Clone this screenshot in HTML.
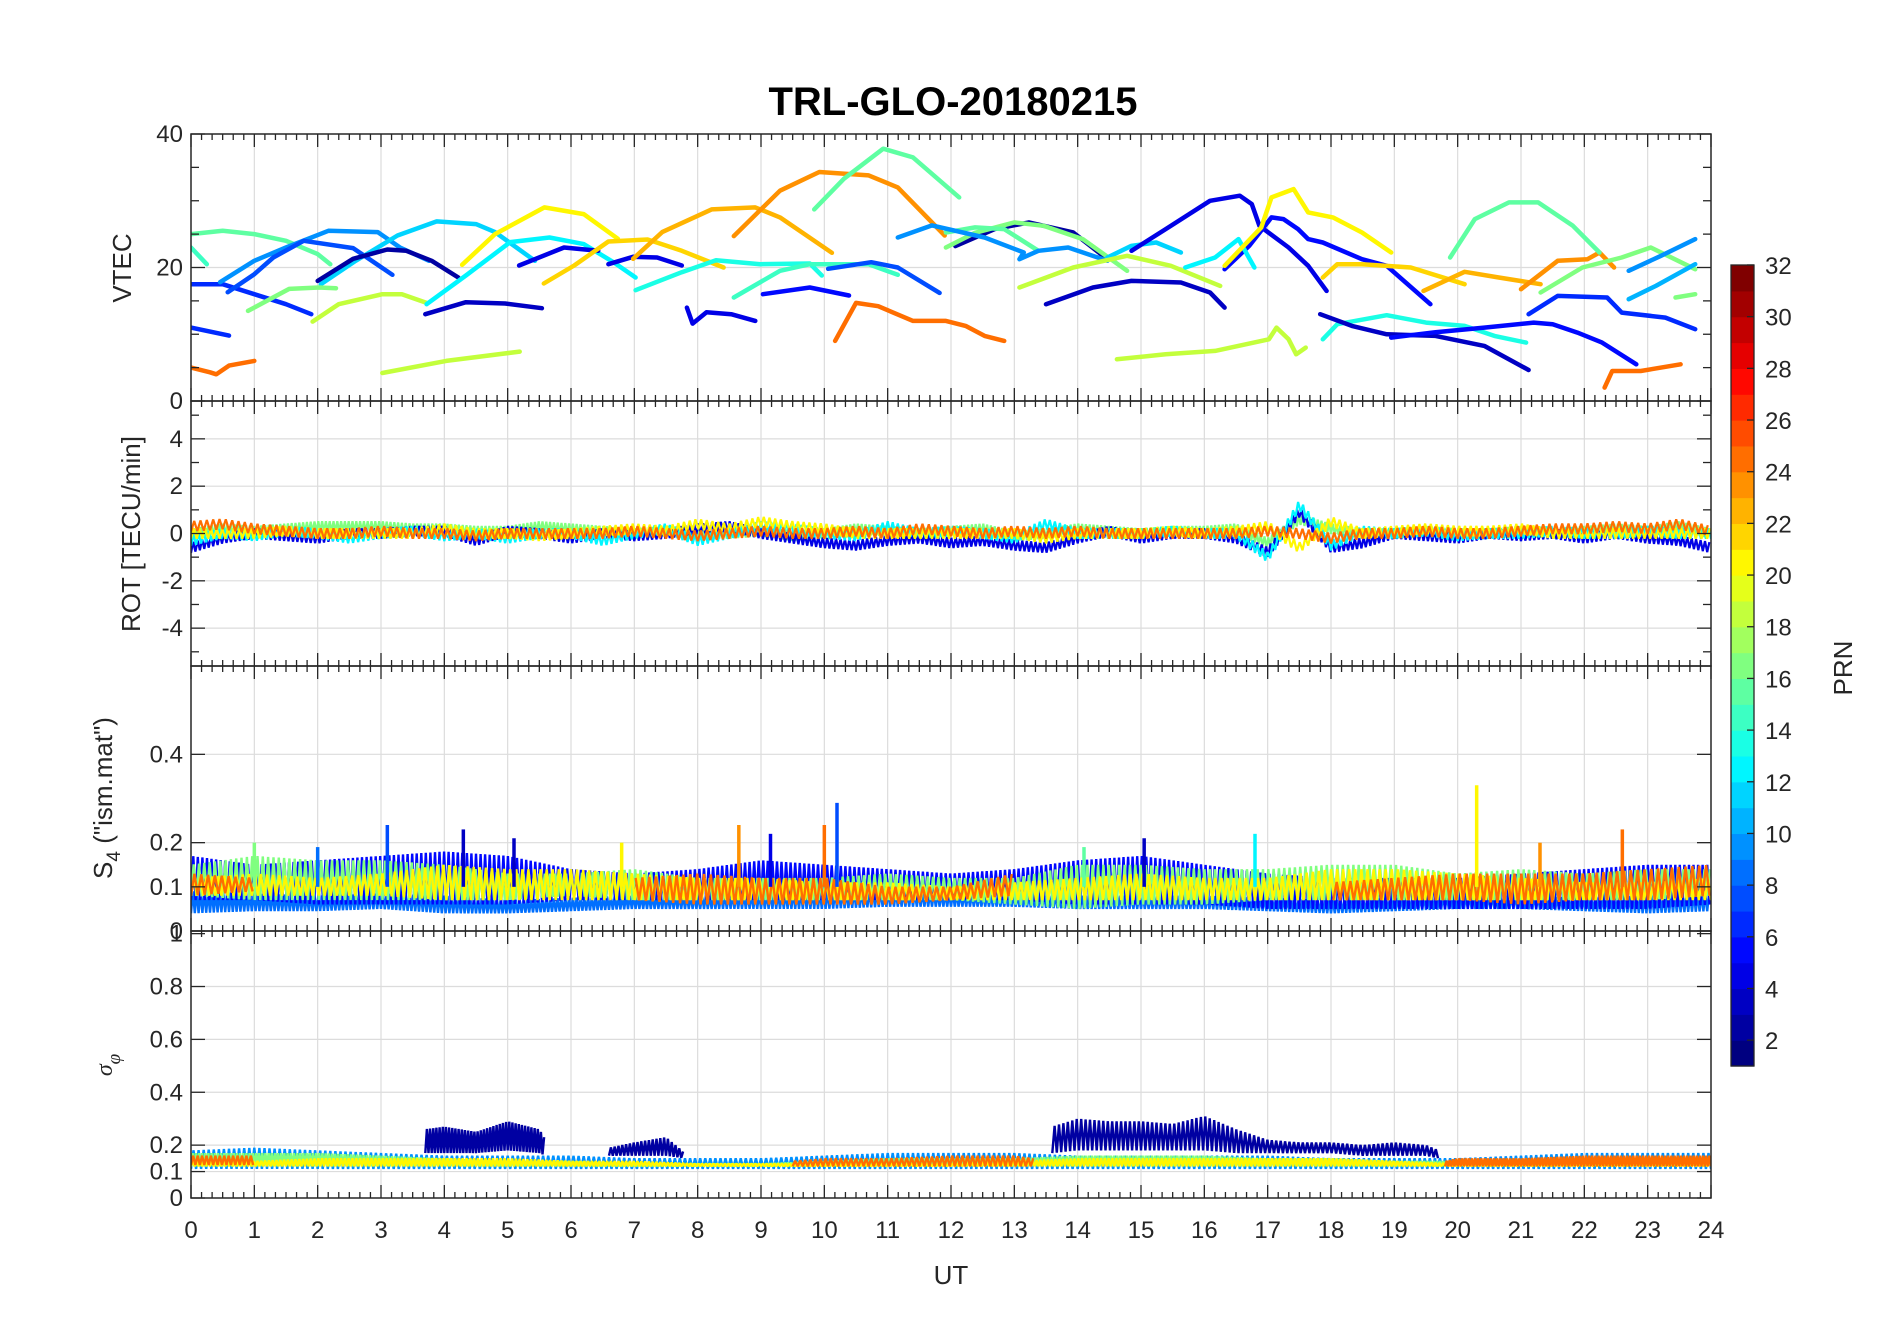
<!DOCTYPE html>
<html><head><meta charset="utf-8">
<style>
html,body{margin:0;padding:0;background:#fff;}
svg{display:block;font-family:"Liberation Sans",sans-serif;}
</style></head>
<body>
<svg id="chart" width="1902" height="1330" viewBox="0 0 1902 1330" xmlns="http://www.w3.org/2000/svg">
<rect x="0" y="0" width="1902" height="1330" fill="#fff"/>
<text x="953" y="115" text-anchor="middle" font-size="40" font-weight="bold" fill="#000">TRL-GLO-20180215</text>
<g id="layer"></g>
</svg>
<script>
// ---------------- DATA ----------------
const vtecPRN = [15,14,6,6,24,9,7,11,2,16,18,12,20,3,18,4,4,21,22,23,15,13,14,7,5,4,24,2,16,15,9,11,18,3,4,5,12,20,21,22,23,15,16,9,10,16,6,13,3,5,18,24];
const vtecT = [
[0,0.5,1,1.5,2,2.2],[0,0.25],[0,0.5,1,1.5,1.9],[0,0.6],[0,0.3,0.4,0.6,1],
[0.46,1,1.5,2.17,2.95,3.3,3.76],[0.58,1,1.3,1.78,2.56,3.18],
[2.05,2.6,3.26,3.88,4.5,4.8,5.43],[2.0,2.56,3.1,3.4,3.8,4.22],
[0.9,1.55,2.02,2.29],[1.92,2.33,3.02,3.33,3.72],
[3.72,4.34,5.04,5.66,6.2,6.67,7.02],[4.28,4.8,5.58,6.2,6.74],
[3.7,4.34,4.96,5.54],[3.02,4.03,5.19],
[5.18,5.89,6.43],[6.59,6.98,7.36,7.75],
[5.57,6.05,6.59,7.21,7.75,8.41],[6.98,7.44,8.22,8.91,9.3,10.12],
[8.57,9.3,9.92,10.7,11.16,11.9],[9.84,10.31,10.93,11.4,12.13],
[7.02,7.75,8.29,8.99,9.77,9.96],[8.57,9.3,9.77,10.7,11.16],
[10.06,10.74,11.16,11.82],[9.03,9.77,10.39],[7.83,7.92,8.14,8.53,8.91],
[10.17,10.5,10.85,11.4,11.92,12.23,12.53,12.84],
[12.07,12.69,13.23,13.93,14.47],[11.92,12.38,13,13.46,14.08,14.78],
[11.92,12.38,12.84,13.38],[11.16,11.7,12.53,13.15,13.08,13.38,13.85,14.47],
[14.47,14.85,15.24,15.63],[13.08,13.93,14.78,15.47,16.25],
[13.5,14.24,14.85,15.63,16.09,16.32],
[14.85,15.39,16.09,16.56,16.75,16.87,17.33,17.64,17.93],
[16.32,16.71,17.06,17.25,17.48,17.64,17.87,18.49,18.88,19.57],
[15.7,16.17,16.54,16.79],[16.32,16.9,17.06,17.41,17.64,18.03,18.49,18.95],
[17.87,18.1,18.49,19.26,20.11],[19.46,20.11,20.65,21.31],
[21,21.58,22.05,22.24,22.47],[19.88,20.27,20.81,21.27,21.82,22.24],
[21.31,21.97,22.59,23.05,23.75],[22.7,23.21,23.75],[22.7,23.13,23.75],[23.44,23.75],
[21.12,21.58,22.36,22.59,23.28,23.75],
[17.87,18.1,18.88,19.5,20.11,20.58,21.08],
[17.83,18.33,18.88,19.65,20.42,21.12],
[18.95,19.65,20.42,21.2,21.5,21.89,22.28,22.82],
[14.62,15.39,16.17,17.02,17.14,17.33,17.45,17.6],
[22.32,22.44,22.89,23.52]
];
const vtecV = [
[25,25.5,25,24,22,20.5],[23,20.5],[17.5,17.5,16,14.5,13],[11,9.8],[5,4.3,4,5.3,6],
[17.8,21,23,25.5,25.3,23,21],[16.3,19,21.5,24,22.9,18.9],
[17.5,21,24.8,26.9,26.5,25.3,21],[18,21.3,22.7,22.5,21,18.5],
[13.5,16.8,17,16.9],[11.9,14.5,16,16,14.7],
[14.5,18.8,23.8,24.5,23.5,20.8,18.5],[20.4,25,29,28,24.3],
[13,14.8,14.6,13.9],[4.2,6,7.4],
[20.3,23,22.5],[20.5,21.6,21.5,20.3],
[17.6,20.3,23.9,24.2,22.5,20],[21.3,25.3,28.7,29,27.5,22.2],
[24.7,31.5,34.3,33.8,32,24.8],[28.7,33.3,37.8,36.5,30.5],
[16.6,19.3,21.1,20.5,20.6,18.8],[15.5,19.5,20.5,20.5,18.9],
[19.8,20.8,20,16.2],[16,17,15.8],[14,11.6,13.3,13,12],
[9,14.7,14.2,12,12,11.25,9.75,9],
[23.2,25.75,26.75,25.25,21.25],[23,25.2,26.75,26.25,24.25,19.5],
[25.25,26,25.75,22.5],[24.5,26.3,24.5,22.25,21.25,22.5,23,21],
[21.5,23.25,23.75,22.25],[17,20,21.75,20.25,17.25],
[14.5,17,18,17.75,16.25,14],
[22.5,25.75,30,30.75,29.5,26.25,23,20.25,16.5],
[19.75,23.25,27.5,27.25,25.75,24.25,23.75,21.25,20.25,14.5],
[20,21.5,24.25,20],[20.25,26,30.5,31.75,28.25,27.5,25.25,22.25],
[18.5,20.5,20.5,20,17.5],[16.5,19.35,18.5,17.5],
[16.75,21,21.25,22.25,20],[21.5,27.25,29.75,29.75,26.25,22.25],
[16.25,20,21.5,23,19.75],[19.5,21.75,24.25],[15.25,17.25,20.5],[15.5,16],
[13,15.75,15.5,13.25,12.5,10.75],
[9.25,11.5,12.85,11.75,11.25,9.75,8.75],
[13,11.25,10,9.75,8.25,4.65],
[9.5,10.3,11,11.75,11.5,10.25,8.75,5.5],
[6.25,7,7.5,9.25,11,9.25,7,8],
[2,4.5,4.5,5.5]
];

// ROT series (every 0.5 h)
const rotPRN = [16,4,12,20,24];
const rotV16 = [0,0.2,0.1,0.2,0.3,0.3,0.3,0.2,0.2,0.1,0.1,0.3,0.2,0.1,0,0.1,0,0,0.1,-0.1,0,0.2,0.1,0,0.1,0.2,-0.1,0,0.2,0.1,0,0.1,0.1,0.2,-0.4,0.6,0.2,0,0,0.1,0,0,0.1,0,0.1,0.2,0.1,0.3,0];
const rotV4 = [-0.6,-0.2,0,-0.1,-0.2,0,0,0.1,0.1,-0.3,0.1,0,-0.2,0,-0.1,0,0.2,0.3,0,-0.2,-0.4,-0.5,-0.3,-0.2,-0.4,-0.3,-0.5,-0.6,-0.2,0.1,-0.2,0,0,-0.2,-0.8,0.9,-0.6,-0.4,0,-0.1,-0.2,0,-0.1,0,-0.2,0,-0.2,-0.3,-0.6];
const rotV12 = [-0.3,0,-0.1,0.1,0,-0.2,0,0.1,-0.1,0,-0.2,0,0,-0.3,0,0.2,-0.3,0,0.3,0.2,0,-0.1,0.3,0,0.1,0,-0.2,0.4,0,0,0,0.1,0,0,-1.0,1.2,-0.5,0.1,0,0.1,-0.1,0,0,0.1,0,0,0.1,0,0];
const rotV20 = [0,0,0,0.1,0,0,0,0,0.2,0,0,-0.1,0,0.1,0.2,0.1,0.4,0.2,0.5,0.3,0.2,0,0,0,0,0,0,-0.2,0,0,0,0.1,0,0.1,0.3,-0.6,0.5,0,0.1,0.2,0.1,0.1,0.2,0,0,0,0,0,0];
const rotV24 = [0.3,0.4,0.2,0.1,0,0,0.1,0,0,-0.1,0,0,0,0,0.1,0,-0.1,0,0.1,0,0,0.1,0,0.2,0.1,0,0.1,0,0.1,0,0,0,0,0,0.1,0,-0.2,0,0,0.1,0,0,0.1,0.2,0.2,0.3,0.2,0.4,0.1];

// S4 bands (hourly, 0..24)
const s4PRN = [8,5,16,20,24];
const s4Lo8 = [.04,.045,.045,.05,.04,.04,.045,.05,.05,.05,.05,.055,.055,.055,.05,.05,.05,.045,.04,.045,.05,.05,.045,.04,.045];
const s4Hi8 = [.09,.085,.08,.085,.08,.07,.075,.08,.08,.085,.09,.09,.085,.08,.08,.08,.08,.075,.07,.075,.08,.08,.075,.08,.085];
const s4Lo5 = [.07,.07,.06,.06,.06,.06,.07,.07,.07,.07,.07,.07,.07,.07,.06,.06,.06,.05,.05,.05,.05,.05,.05,.05,.06];
const s4Hi5 = [.17,.15,.16,.17,.18,.17,.14,.13,.14,.16,.15,.14,.13,.14,.16,.17,.15,.13,.12,.12,.12,.13,.14,.15,.15];
const s4Lo16 = [.08,.07,.07,.07,.07,.07,.08,.07,.07,.07,.07,.07,.07,.06,.05,.06,.06,.07,.07,.07,.07,.07,.07,.07,.08];
const s4Hi16 = [.15,.17,.16,.16,.15,.13,.13,.14,.12,.12,.12,.13,.12,.12,.15,.15,.14,.14,.15,.15,.13,.14,.13,.14,.14];
const s4Lo20 = [.08,.08,.08,.08,.07,.07,.07,.07,.07,.07,.07,.07,.07,.07,.07,.07,.07,.07,.07,.07,.07,.07,.07,.07,.07];
const s4Hi20 = [.12,.13,.12,.13,.15,.14,.14,.13,.12,.12,.11,.11,.1,.11,.12,.13,.12,.12,.14,.14,.13,.12,.11,.11,.12];
const s4Lo24 = [.08,.09,null,null,null,null,null,.07,.06,.06,.06,.06,.07,.08,null,null,null,null,.07,.07,.07,.06,.07,.07,.08];
const s4Hi24 = [.13,.12,null,null,null,null,null,.12,.13,.12,.12,.1,.1,.13,null,null,null,null,.11,.12,.13,.13,.13,.14,.15];
const spikeT = [1.0,2.0,3.1,4.3,5.1,6.8,8.65,9.15,10.0,10.2,14.1,15.05,16.8,20.3,21.3,22.6];
const spikeV = [0.2,0.19,0.24,0.23,0.21,0.2,0.24,0.22,0.24,0.29,0.19,0.21,0.22,0.33,0.2,0.23];
const spikePRN = [16,8,7,3,3,20,23,4,24,7,15,3,12,20,23,24];

// sigma_phi bands
const sigPRN = [2,2,2,9,16,20,24,24,24];
const sigT = [
[3.7,4.0,4.5,5.0,5.5,5.6],[6.6,7,7.5,7.8],
[13.6,14,14.5,15,15.5,16,16.5,17,17.5,18,18.5,19,19.5,19.7],
[0,1,2,3,4,5,6,7,8,9,10,11,12,13,14,15,16,17,18,19,20,21,22,23,24],
[0,1,2,3,4,5,6,7,8,9,10,11,12,13,14,15,16,17,18,19,20,21,22,23,24],
[0,1,2,3,4,5,6,7,8,9,10,11,12,13,14,15,16,17,18,19,20,21,22,23,24],
[0,1],[9.5,10,11,12,13,13.3],[19.8,20,21,22,23,24]
];
const sigLo = [
[.17,.17,.17,.18,.17,.16],[.16,.16,.16,.15],
[.17,.18,.18,.18,.18,.18,.17,.17,.17,.17,.16,.16,.16,.15],
[.11,.11,.11,.11,.11,.11,.11,.11,.11,.11,.11,.11,.11,.11,.11,.11,.11,.11,.11,.11,.11,.11,.11,.11,.11],
[.12,.12,.12,.12,.12,.12,.12,.12,.12,.12,.12,.12,.12,.12,.12,.12,.12,.12,.12,.12,.12,.12,.12,.12,.12],
[.12,.12,.12,.12,.12,.12,.12,.12,.12,.12,.12,.12,.12,.12,.12,.12,.12,.12,.12,.12,.12,.12,.12,.12,.12],
[.125,.125],[.12,.12,.12,.12,.12,.12],[.12,.12,.12,.12,.12,.12]
];
const sigHi = [
[.26,.27,.25,.29,.26,.22],[.19,.21,.23,.17],
[.27,.3,.29,.29,.28,.31,.26,.22,.21,.21,.2,.21,.2,.18],
[.18,.19,.18,.17,.16,.16,.16,.15,.15,.15,.16,.17,.17,.17,.16,.16,.16,.16,.15,.15,.15,.16,.17,.17,.17],
[.17,.17,.17,.16,.15,.14,.14,.13,.13,.13,.14,.15,.15,.15,.16,.16,.16,.15,.15,.14,.14,.14,.15,.15,.15],
[.14,.14,.15,.15,.15,.15,.14,.14,.13,.13,.13,.13,.13,.14,.15,.15,.15,.15,.15,.14,.13,.13,.13,.13,.13],
[.16,.16],[.14,.15,.15,.16,.16,.15],[.14,.15,.15,.16,.16,.16]
];

const xTicks = [0,1,2,3,4,5,6,7,8,9,10,11,12,13,14,15,16,17,18,19,20,21,22,23,24];
const vtecTicks = [0,20,40];
const rotTicks = [-4,-2,0,2,4];
const s4Ticks = [0,0.1,0.2,0.4];
const sigTicks = [0,0.1,0.2,0.4,0.6,0.8,1];
const cbTicks = [2,4,6,8,10,12,14,16,18,20,22,24,26,28,30,32];

// ---------------- RENDER ----------------
const NS = "http://www.w3.org/2000/svg";
const layer = document.getElementById('layer');
const L = 191, R = 1711;
const panels = {
  vtec: {top:134, bot:401, min:0, max:40},
  rot: {top:401, bot:666, min:-5.6, max:5.6},
  s4: {top:666, bot:931, min:0, max:0.6},
  sig: {top:931, bot:1198, min:0, max:1.01}
};
function xs(h){ return L + h*(R-L)/24; }
function ys(p, v){ return p.bot - (v-p.min)/(p.max-p.min)*(p.bot-p.top); }
function jet(t){
  const c = x => Math.round(255*Math.max(0, Math.min(1, x)));
  return 'rgb(' + c(1.5-Math.abs(4*t-3)) + ',' + c(1.5-Math.abs(4*t-2)) + ',' + c(1.5-Math.abs(4*t-1)) + ')';
}
function prnColor(p){ const b = Math.min(30, Math.max(0, Math.floor(p-1))); return jet(b/30); }
function mk(tag, attrs, parent){
  const e = document.createElementNS(NS, tag);
  for (const k in attrs) e.setAttribute(k, attrs[k]);
  (parent||layer).appendChild(e);
  return e;
}

const gridG = mk('g', {});


const gridY = {vtec:[20], rot:rotTicks, s4:[0.1,0.2,0.4], sig:[0.1,0.2,0.4,0.6,0.8]};
for (const k in panels){
  const p = panels[k];
  xTicks.forEach(h => { if (h>0 && h<24) mk('line', {x1:xs(h), x2:xs(h), y1:p.top, y2:p.bot, stroke:'#dcdcdc', 'stroke-width':1.2}, gridG); });
  gridY[k].forEach(v => mk('line', {x1:L, x2:R, y1:ys(p,v), y2:ys(p,v), stroke:'#dcdcdc', 'stroke-width':1.2}, gridG));
}

const defs = mk('defs', {});
for (const k in panels){
  const p = panels[k];
  const cp = mk('clipPath', {id:'clip-'+k}, defs);
  mk('rect', {x:L, y:p.top, width:R-L, height:p.bot-p.top}, cp);
}

// VTEC arcs
const vg = mk('g', {'clip-path':'url(#clip-vtec)'});


vtecPRN.forEach((prn, i) => {
  const pts = vtecT[i].map((t, j) => xs(t).toFixed(1) + ',' + ys(panels.vtec, vtecV[i][j]).toFixed(1)).join(' ');
  const pl = mk('polyline', {points:pts, fill:'none', stroke:prnColor(prn), 'stroke-width':4.5, 'stroke-linejoin':'round', 'stroke-linecap':'round'}, vg);
  
  
});

function interp(T, A, h){
  for (let j = 0; j < T.length-1; j++){
    if (h >= T[j] && h <= T[j+1]){
      if (A[j] == null || A[j+1] == null) return null;
      const f = (h - T[j])/(T[j+1]-T[j] || 1);
      return A[j] + f*(A[j+1]-A[j]);
    }
  }
  return null;
}
function drawZig(g, p, T, lo, hi, color, name, step, width){
  let pts = [], k = 0;
  const flush = () => {
    if (pts.length > 1){
      const pl = mk('polyline', {points:pts.join(' '), fill:'none', stroke:color, 'stroke-width':width, 'stroke-linejoin':'bevel'}, g);
      
      
    }
    pts = [];
  };
  for (let h = T[0]; h <= T[T.length-1] + 1e-9; h += step){
    const a = interp(T, lo, h), b = interp(T, hi, h);
    if (a == null || b == null){ flush(); continue; }
    const v = (k++ % 2 === 0) ? a : b;
    pts.push(xs(h).toFixed(1) + ',' + ys(p, v).toFixed(1));
  }
  flush();
}

// ROT
const rg = mk('g', {'clip-path':'url(#clip-rot)'});


const rotSeries = [rotV16, rotV4, rotV12, rotV20, rotV24];
const rotT = rotV16.map((_, j) => j*0.5);
rotSeries.forEach((arr, i) => {
  const lo = arr.map(v => v - 0.22), hi = arr.map(v => v + 0.22);
  drawZig(rg, panels.rot, rotT, lo, hi, prnColor(rotPRN[i]), 'rot-line-prn' + rotPRN[i], 0.03 + i*0.005, 2.2);
});

// S4
const sg = mk('g', {'clip-path':'url(#clip-s4)'});


const s4Lo = [s4Lo8, s4Lo5, s4Lo16, s4Lo20, s4Lo24];
const s4Hi = [s4Hi8, s4Hi5, s4Hi16, s4Hi20, s4Hi24];
s4PRN.forEach((prn, i) => drawZig(sg, panels.s4, xTicks, s4Lo[i], s4Hi[i], prnColor(prn), 's4-band-prn' + prn, 0.03 + i*0.006, 2.4));
spikeT.forEach((t, i) => {
  const ln = mk('line', {x1:xs(t), x2:xs(t), y1:ys(panels.s4, 0.1), y2:ys(panels.s4, spikeV[i]), stroke:prnColor(spikePRN[i]), 'stroke-width':3.5}, sg);
  
  
});

// sigma phi
const gg = mk('g', {'clip-path':'url(#clip-sig)'});


sigPRN.forEach((prn, i) => drawZig(gg, panels.sig, sigT[i], sigLo[i], sigHi[i], prnColor(prn), 'sigma-band-prn' + prn, 0.025 + (i%4)*0.005, 2.4));

// axes
const ax = mk('g', {});


const yTickSets = {vtec:vtecTicks, rot:rotTicks, s4:s4Ticks, sig:sigTicks};
const yMinor = {vtec:[5,10,15,25,30,35], rot:[-5,-3,-1,1,3,5], s4:[], sig:[]};
for (const k in panels){
  const p = panels[k];
  for (let m = 0; m <= 144; m++){
    const h = m/6, x = xs(h), len = (m % 6 === 0) ? 13 : 6;
    mk('line', {x1:x, x2:x, y1:p.bot, y2:p.bot-len, stroke:'#262626', 'stroke-width':1.3}, ax);
    mk('line', {x1:x, x2:x, y1:p.top, y2:p.top+len, stroke:'#262626', 'stroke-width':1.3}, ax);
  }
  yTickSets[k].forEach(v => {
    const y = ys(p, v);
    mk('line', {x1:L, x2:L+14, y1:y, y2:y, stroke:'#262626', 'stroke-width':1.3}, ax);
    mk('line', {x1:R, x2:R-14, y1:y, y2:y, stroke:'#262626', 'stroke-width':1.3}, ax);
    const tx = mk('text', {x:L-8, y:y+8, 'text-anchor':'end', 'font-size':24, fill:'#262626'}, ax);
    tx.textContent = String(v);
    
    
  });
  yMinor[k].forEach(v => {
    const y = ys(p, v);
    mk('line', {x1:L, x2:L+8, y1:y, y2:y, stroke:'#262626', 'stroke-width':1.3}, ax);
    mk('line', {x1:R, x2:R-8, y1:y, y2:y, stroke:'#262626', 'stroke-width':1.3}, ax);
  });
  const fr = mk('rect', {x:L, y:p.top, width:R-L, height:p.bot-p.top, fill:'none', stroke:'#262626', 'stroke-width':1.5}, ax);
  
  
}
xTicks.forEach(h => {
  const tx = mk('text', {x:xs(h), y:1238, 'text-anchor':'middle', 'font-size':24, fill:'#262626'}, ax);
  tx.textContent = String(h);
  
  
});

// colorbar
const cb = mk('g', {});


const cbL = 1731, cbW = 23, cbTop = 265, cbBot = 1066;
const cbY = v => cbBot - (v-1)/31*(cbBot-cbTop);
for (let b = 0; b < 31; b++){
  mk('rect', {x:cbL, y:cbY(b+2), width:cbW, height:cbY(b+1)-cbY(b+2)+0.6, fill:jet(b/30)}, cb);
}
mk('rect', {x:cbL, y:cbTop, width:cbW, height:cbBot-cbTop, fill:'none', stroke:'#262626', 'stroke-width':1.3}, cb);
cbTicks.forEach(v => {
  const y = cbY(v);
  mk('line', {x1:cbL+cbW-7, x2:cbL+cbW, y1:y, y2:y, stroke:'#262626', 'stroke-width':1.3}, cb);
  const tx = mk('text', {x:1765, y:y+9, 'font-size':24, fill:'#262626'}, cb);
  tx.textContent = String(v);
  
  
});

function addTitle(html){
  const g = document.createElementNS(NS, 'g');
  g.innerHTML = html;
  document.getElementById('chart').appendChild(g);
}
addTitle('<text transform="translate(131,268) rotate(-90)" text-anchor="middle" font-size="26" fill="#262626">VTEC</text>');
addTitle('<text transform="translate(140,534) rotate(-90)" text-anchor="middle" font-size="26" fill="#262626">ROT [TECU/min]</text>');
addTitle('<text transform="translate(112,798) rotate(-90)" text-anchor="middle" font-size="26" fill="#262626">S<tspan font-size="19" dy="8">4</tspan><tspan dy="-8"> ("ism.mat")</tspan></text>');
addTitle('<text transform="translate(112,1065) rotate(-90)" text-anchor="middle" font-size="24" font-style="italic" fill="#262626" font-family="Liberation Serif, serif">σ<tspan font-size="19" dy="8">φ</tspan></text>');
addTitle('<text x="951" y="1284" text-anchor="middle" font-size="26" fill="#262626">UT</text>');
addTitle('<text transform="translate(1852,668) rotate(-90)" text-anchor="middle" font-size="26" fill="#262626">PRN</text>');
</script>
</body></html>
